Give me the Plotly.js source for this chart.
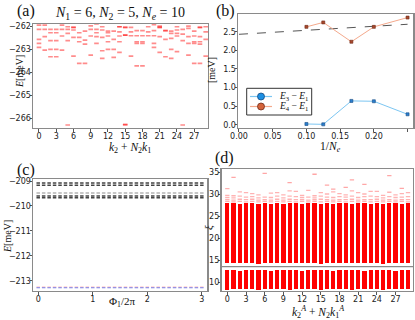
<!DOCTYPE html>
<html><head><meta charset="utf-8">
<script src="https://cdn.plot.ly/plotly-3.0.1.min.js"></script>
<style>html,body{margin:0;padding:0;background:#fff}#chart{width:415px;height:320px}</style>
</head><body><div id="chart"></div><script>
// ---------- Panel (a): spectrum per momentum sector ----------
const sectorsA = [0,1,2,3,4,5,6,7,8,9,10,11,12,13,14,15,16,17,18,19,20,21,22,23,24,25,26,27,28,29];
const levelsA = [
  [-261.96,-262.14,-262.58,-262.75,-262.92],
  [-261.96,-262.14,-262.46,-263.04],
  [-262.14,-262.29,-262.63,-263.01,-263.33],
  [-262.14,-262.29,-262.63,-263.01,-263.33],
  [-261.96,-262.14,-262.43,-263.04],
  [-262.03,-262.14,-262.32,-262.63,-266.29],
  [-262.06,-262.06,-262.17,-262.49,-263.30],
  [-262.29,-262.49,-262.68,-263.62],
  [-262.22,-262.61,-262.78,-263.62],
  [-261.99,-262.14,-262.43,-263.26],
  [-261.91,-262.14,-262.29,-262.46,-262.75],
  [-262.03,-262.17,-262.49,-263.07,-263.40],
  [-262.22,-262.29,-262.43,-262.68,-263.01],
  [-262.22,-262.58,-263.01,-263.36],
  [-262.03,-262.03,-262.25,-262.43,-262.68,-263.14],
  [-262.06,-262.06,-262.39,-262.39,-266.27,-266.27],
  [-262.06,-262.25,-262.42,-263.30],
  [-262.20,-262.42,-262.68,-262.75,-263.73],
  [-262.20,-262.42,-262.68,-262.75,-263.73],
  [-262.03,-262.25,-262.42],
  [-261.94,-262.20,-262.42,-262.75,-262.92],
  [-262.00,-262.06,-262.06,-262.46,-263.14],
  [-262.20,-262.20,-262.58,-263.33],
  [-262.22,-262.32,-262.53,-263.01,-263.40],
  [-262.03,-262.17,-262.32,-262.43,-263.11],
  [-262.14,-262.35,-262.63,-266.29],
  [-262.00,-262.10,-262.46,-262.75,-263.26],
  [-262.22,-262.43,-262.68,-262.75,-263.62],
  [-262.06,-262.06,-262.46,-262.68,-262.78,-263.62],
  [-262.03,-262.25,-262.58,-263.30]
];
const ticksA = [0,3,6,9,12,15,18,21,24,27];

// ---------- Panel (b): gaps vs 1/Ne ----------
const invNe = [0.1, 0.125, 0.1667, 0.2, 0.25];
const gap31 = [0.02, 0.01, 0.64, 0.63, 0.28];
const gap41 = [2.63, 2.75, 2.23, 2.63, 2.88];
const fitX = [0, 0.25];
const fitY = [2.43, 2.70];
const legendNames = ['<i>E</i><sub>3</sub> − <i>E</i><sub>1</sub>', '<i>E</i><sub>4</sub> − <i>E</i><sub>1</sub>'];

// ---------- Panel (c): spectral flow ----------
const phiC = [0,0.1,0.2,0.3,0.4,0.5,0.6,0.7,0.8,0.9,1,1.1,1.2,1.3,1.4,1.5,1.6,1.7,1.8,1.9,2,2.1,2.2,2.3,2.4,2.5,2.6,2.7,2.8,2.9,3];
const darkLevelsC = [-209.08, -209.17, -209.60, -209.67];
const grayLevelsC = [-209.48];
const groundBlueC = -213.28;
const groundRedC = -213.25;
const ticksC = [0,1,2,3];

// ---------- Panel (d): entanglement spectrum ----------
const sectorsD = [0,1,2,3,4,5,6,7,8,9,10,11,12,13,14,15,16,17,18,19,20,21,22,23,24,25,26,27,28,29];
const upperTopD = [28.0,28.1,27.9,28.0,28.0,27.9,28.0,27.9,28.0,27.9,28.1,28.0,27.9,28.0,28.1,27.9,28.0,27.9,28.0,28.0,27.9,28.1,28.0,27.9,28.0,27.9,28.0,28.0,27.9,28.0];
const upperBotD = [14.3,14.4,14.4,14.3,14.4,14.2,14.4,14.3,14.4,14.3,14.4,14.3,14.4,14.3,14.4,14.2,14.4,14.3,14.4,14.3,14.4,14.3,14.4,14.3,14.4,14.2,14.4,14.3,14.4,14.3];
const lowerTopD = [12.7,12.7,12.6,12.7,12.7,12.8,12.7,12.6,12.7,12.7,12.8,12.7,12.6,12.7,12.7,12.8,12.7,12.6,12.7,12.7,12.8,12.7,12.6,12.7,12.7,12.8,12.7,12.6,12.7,12.7];
const lowerBotD = [8.2,8.5,8.5,8.4,8.5,8.1,8.5,8.4,8.5,8.5,8.3,8.5,8.4,8.5,8.5,8.2,8.5,8.4,8.5,8.5,8.1,8.5,8.4,8.5,8.5,8.2,8.5,8.4,8.5,8.5];
const tailD = [
  [28.4,28.8,29.3,29.8,31.3],[28.3,28.7,29.2,29.7],[28.4,28.9,29.6,30.6],[28.3,28.8,29.4,30.4],
  [28.4,28.9,29.5,30.2],[28.3,28.7,29.2,29.9],[28.4,28.8,29.4],[28.3,28.7,29.3,30.3],
  [28.4,28.9,29.6,30.4],[28.3,28.7,29.2,29.9],[28.4,28.9,29.6,30.8],[28.3,28.8,29.5,30.7],
  [28.4,28.8,29.3,29.8],[28.3,28.7,29.4,30.9],[28.4,28.8,29.2,29.7],[28.3,28.9,29.6,30.4],
  [28.4,28.8,29.4,30.1],[28.3,28.7,29.3,30.6],[28.4,28.8,29.5,30.2],[28.3,28.8,29.4,29.9],
  [28.4,28.9,29.6,30.8],[28.3,28.7,29.3,30.4],[28.4,28.8,29.5,30.1],[28.3,28.8,29.6,30.7],
  [28.4,28.9,29.5,30.7],[28.3,28.7,29.2,29.8],[28.4,28.8,29.5,30.5],[28.3,28.7,29.3,29.9],
  [28.4,28.8,29.4,30.2],[28.3,28.8,29.5,30.4]
];
const outlierK = [1, 6, 10, 14, 16, 17, 19, 20, 22, 26, 28];
const outlierXi = [33.9, 34.8, 32.7, 34.6, 32.1, 31.2, 31.6, 33.3, 32.3, 34.3, 31.4];
const gapLineXi = 13.5;
const ticksD = [0,3,6,9,12,15,18,21,24,27];

// ---------- build ----------
const W = 415, H = 320;
const px = v => v / W, py = v => 1 - v / H;
const TF = {family: 'DejaVu Sans', size: 8, color: '#222'};
const SERIF = 'Liberation Serif';

function axis(dom, range, isX, extra) {
  return Object.assign({domain: dom, range: range, showline: true, mirror: true, linecolor: '#8a8a8a', linewidth: 1.3,
    ticks: 'outside', ticklen: 2.5, tickwidth: 1, tickcolor: '#555', showgrid: false, zeroline: false, tickfont: TF,
    ticklabelstandoff: isX ? -2 : -3}, extra);
}

const traces = [];
// (a)
const ax = [], ay = [];
levelsA.forEach((lv, i) => lv.forEach(e => { ax.push(sectorsA[i]); ay.push(e); }));
traces.push({type: 'scatter', mode: 'markers', x: ax, y: ay, xaxis: 'x', yaxis: 'y', showlegend: false,
  marker: {symbol: 'line-ew', size: 3.3, line: {color: 'rgba(255,0,0,0.45)', width: 1.7}}});

// (b)
const blueLine = '#7cc6f2', blueMark = '#1c8fe3', blueEdge = '#174a80';
const orLine = '#f4a98c', orMark = '#d4633a', orEdge = '#6e2a18';
traces.push({type: 'scatter', mode: 'lines', x: fitX, y: fitY, xaxis: 'x2', yaxis: 'y2', showlegend: false,
  line: {color: '#555', width: 1, dash: 'dash'}});
traces.push({type: 'scatter', mode: 'lines+markers', x: invNe, y: gap31, xaxis: 'x2', yaxis: 'y2', showlegend: false,
  name: legendNames[0], line: {color: blueLine, width: 1},
  marker: {symbol: 'square', size: 3, color: '#2a7fd0', line: {color: blueEdge, width: 0.6}}});
traces.push({type: 'scatter', mode: 'lines+markers', x: invNe, y: gap41, xaxis: 'x2', yaxis: 'y2', showlegend: false,
  name: legendNames[1], line: {color: orLine, width: 1},
  marker: {symbol: 'square', size: 3, color: '#a8482c', line: {color: orEdge, width: 0.6}}});

// (c)
function flowTrace(level, color, w) {
  return {type: 'scatter', mode: 'markers', x: phiC, y: phiC.map(() => level), xaxis: 'x3', yaxis: 'y3', showlegend: false,
    marker: {symbol: 'line-ew', size: 2.5, line: {color: color, width: w}}};
}
grayLevelsC.forEach(l => traces.push(flowTrace(l, 'rgba(0,0,0,0.3)', 1.4)));
darkLevelsC.forEach(l => traces.push(flowTrace(l, 'rgba(20,20,20,0.8)', 1.6)));
traces.push(flowTrace(groundRedC, 'rgba(255,60,60,0.35)', 1.2));
traces.push(flowTrace(groundBlueC, 'rgba(70,90,230,0.75)', 1.2));

// (d)
traces.push({type: 'bar', x: sectorsD, base: upperBotD, y: upperTopD.map((t, i) => t - upperBotD[i]), xaxis: 'x4', yaxis: 'y4',
  width: 0.68, showlegend: false, marker: {color: '#ff0000', line: {width: 0}}});
traces.push({type: 'bar', x: sectorsD, base: lowerBotD, y: lowerTopD.map((t, i) => t - lowerBotD[i]), xaxis: 'x4', yaxis: 'y4',
  width: 0.68, showlegend: false, marker: {color: '#ff0000', line: {width: 0}}});
const tx = [], ty = [];
tailD.forEach((lv, i) => lv.forEach(v => { tx.push(sectorsD[i]); ty.push(v); }));
traces.push({type: 'scatter', mode: 'markers', x: tx, y: ty, xaxis: 'x4', yaxis: 'y4', showlegend: false,
  marker: {symbol: 'line-ew', size: 3.1, line: {color: 'rgba(255,0,0,0.3)', width: 1.3}}});
traces.push({type: 'scatter', mode: 'markers', x: outlierK, y: outlierXi, xaxis: 'x4', yaxis: 'y4', showlegend: false,
  marker: {symbol: 'line-ew', size: 3.1, line: {color: 'rgba(255,0,0,0.35)', width: 1.3}}});

function ann(text, x, y, size, extra) {
  return Object.assign({text: text, xref: 'paper', yref: 'paper', x: px(x), y: py(y), xanchor: 'center', yanchor: 'middle',
    showarrow: false, font: {family: SERIF, size: size, color: '#111'}}, extra || {});
}

// custom legend for (b), in pixel positions of the page
const legBox = {x0: 246.7, x1: 311.7, y0: 88.3, y1: 115};
const legRows = [96.5, 106.5];
const legCols = [[blueLine, blueMark, blueEdge], [orLine, orMark, orEdge]];
const shapes = [
  {type: 'line', xref: 'x4 domain', x0: 0, x1: 1, yref: 'y4', y0: gapLineXi, y1: gapLineXi, line: {color: '#8a8a8a', width: 1.3}},
  {type: 'rect', xref: 'paper', yref: 'paper', x0: px(legBox.x0), x1: px(legBox.x1), y0: py(legBox.y1), y1: py(legBox.y0),
    line: {color: '#333', width: 1}, fillcolor: '#fff'}
];
const legAnn = [];
legRows.forEach((ry, i) => {
  shapes.push({type: 'line', xref: 'paper', yref: 'paper', x0: px(250), x1: px(272), y0: py(ry), y1: py(ry), line: {color: legCols[i][0], width: 1.2}});
  shapes.push({type: 'circle', xref: 'paper', yref: 'paper', x0: px(257.5), x1: px(264.5), y0: py(ry + 3.5), y1: py(ry - 3.5),
    fillcolor: legCols[i][1], line: {color: legCols[i][2], width: 0.8}});
  legAnn.push(ann(legendNames[i], 277, ry, 9.5, {xanchor: 'left'}));
});

const layout = {
  width: W, height: H, margin: {l: 0, r: 0, t: 0, b: 0}, paper_bgcolor: '#fff', plot_bgcolor: '#fff',
  barmode: 'overlay', bargap: 0, showlegend: false,
  xaxis: axis([px(33.3), px(208)], [-0.99, 29.4], true, {anchor: 'y', tickvals: ticksA}),
  yaxis: axis([py(128), py(24)], [-266.42, -261.91], false, {anchor: 'x', dtick: 1}),
  xaxis2: axis([px(238.3), px(413.3)], [-0.001, 0.2585], true, {anchor: 'y2', tickvals: [0,0.05,0.1,0.15,0.2,0.25], tickformat: '.2f'}),
  yaxis2: axis([py(127.7), py(14)], [-0.08, 2.976], false, {anchor: 'x2', tickvals: [0,0.5,1,1.5,2,2.5], tickformat: '.1f'}),
  xaxis3: axis([px(33.3), px(207.3)], [-0.09, 3.1], true, {anchor: 'y3', tickvals: ticksC}),
  yaxis3: axis([py(291), py(179)], [-213.41, -208.92], false, {anchor: 'x3', dtick: 1}),
  xaxis4: axis([px(221.7), px(413)], [-0.9, 29.8], true, {anchor: 'y4', tickvals: ticksD}),
  yaxis4: axis([py(291), py(169)], [7.96, 35.8], false, {anchor: 'x4', tickvals: [10,15,20,25,30,35]}),
  shapes: shapes,
  annotations: [
    ann('(a)', 25.5, 10.5, 16),
    ann('<i>N</i><sub>1</sub> = 6, <i>N</i><sub>2</sub> = 5, <i>N<sub>e</sub></i> = 10', 120, 13, 14),
    ann('<i>k</i><sub>2</sub> + <i>N</i><sub>2</sub><i>k</i><sub>1</sub>', 130, 147.5, 11.5),
    ann('<i>E</i>[meV]', 19, 72, 10, {textangle: -90}),
    ann('(b)', 225, 11, 16),
    ann('1/<i>N<sub>e</sub></i>', 330, 146.5, 11.5),
    ann('[meV]', 211, 70, 10, {textangle: -90}),
    ann('(c)', 25.5, 170, 16),
    ann('Φ<sub>1</sub>/2π', 122, 302, 11),
    ann('<i>E</i>[meV]', 7, 237, 10, {textangle: -90}),
    ann('(d)', 224, 158, 16),
    ann('<i>k</i><sub>2</sub><sup><i>A</i></sup> + <i>N</i><sub>2</sub><i>k</i><sub>1</sub><sup><i>A</i></sup>', 318, 311.5, 11.5),
    ann('<i>ξ</i>', 208, 228, 11, {textangle: -90})
  ].concat(legAnn)
};

Plotly.newPlot('chart', traces, layout, {displayModeBar: false, staticPlot: true});
</script></body></html>
